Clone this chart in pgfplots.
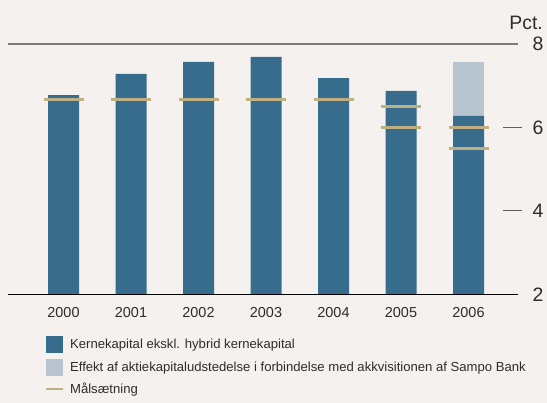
\documentclass[border=0pt]{standalone}
\usepackage{pgfplots}
\pgfplotsset{compat=1.18}
\usepackage{fontspec}
\setmainfont{Liberation Sans}
\definecolor{bg}{RGB}{244,241,238}
\definecolor{darkbar}{RGB}{56,108,140}
\definecolor{lightbar}{RGB}{185,196,209}
\definecolor{target}{RGB}{190,176,130}
\definecolor{txt}{RGB}{45,45,45}
\definecolor{topline}{RGB}{125,125,125}
\definecolor{baseline}{RGB}{30,30,30}
\definecolor{tickc}{RGB}{95,95,95}
\begin{document}
\begin{tikzpicture}
\useasboundingbox (0,0) rectangle (547bp,403bp);
\fill[bg] (0,0) rectangle (547bp,403bp);
\begin{axis}[
  at={(8.3bp,108.7bp)}, anchor=south west,
  scale only axis, width=510bp, height=250bp,
  xmin=-0.8178, xmax=6.7378, ymin=2, ymax=8,
  clip mode=individual,
  axis line style={draw=none},
  major tick length=0pt,
  xtick={0,...,6},
  xticklabels={2000,2001,2002,2003,2004,2005,2006},
  ytick={2,4,6,8},
  yticklabel pos=right,
  /pgf/number format/assume math mode=true,
  xticklabel style={font=\fontsize{14.5}{14.5}\selectfont, text=txt, inner sep=0pt, anchor=north, yshift=-13.4bp},
  yticklabel style={font=\fontsize{19.5}{19.5}\selectfont, text=txt, inner sep=0pt, anchor=west, xshift=14bp},
  legend style={at={(0.072,-0.1668)}, anchor=north west, draw=none, fill=none,
    inner sep=0pt, outer sep=0pt, row sep=7bp,
    font=\fontsize{13.15}{13.15}\selectfont, text=txt,
    cells={anchor=west}, nodes={inner sep=0pt},
    /tikz/column 1/.style={column sep=5.5bp}},
  legend cell align=left,
]
\addplot[ybar, bar width=31bp, bar shift=0pt, fill=lightbar, draw=none, forget plot]
  coordinates {(6,7.58)};
\addplot[ybar, bar width=31bp, bar shift=0pt, fill=darkbar, draw=none, forget plot]
  coordinates {(0,6.78) (1,7.29) (2,7.58) (3,7.70) (4,7.19) (5,6.88) (6,6.28)};
\addplot[only marks, mark=-, mark size=20bp, mark options={line width=2.6bp, draw=target}, forget plot]
  coordinates {(0,6.67) (1,6.67) (2,6.67) (3,6.67) (4,6.67) (5,6.5) (6,6.0)};
\addplot[only marks, mark=-, mark size=20bp, mark options={line width=2.6bp, draw=target}, forget plot]
  coordinates {(5,6.0) (6,5.5)};

\addlegendimage{legend image code/.code={\fill[darkbar] (0bp,-8bp) rectangle (16bp,8bp);}}
\addlegendentry{Kernekapital ekskl. hybrid kernekapital}
\addlegendimage{legend image code/.code={\fill[lightbar] (0bp,-8bp) rectangle (16bp,8bp);}}
\addlegendentry{Effekt af aktiekapitaludstedelse i forbindelse med akkvisitionen af Sampo Bank}
\addlegendimage{legend image code/.code={\draw[target, line width=2.6bp] (0bp,0bp) -- (17bp,0bp);}}
\addlegendentry{Målsætning}

\draw[topline, line width=1.6bp] (rel axis cs:0,1) -- (rel axis cs:1,1);
\draw[baseline, line width=1bp] (rel axis cs:0,0) -- (rel axis cs:1,0);
\draw[tickc, line width=1bp] (axis cs:6.511,6) -- (axis cs:6.793,6);
\draw[tickc, line width=1bp] (axis cs:6.511,4) -- (axis cs:6.793,4);
\end{axis}
\node[anchor=base east, font=\fontsize{19.5}{19.5}\selectfont, text=txt, inner sep=0pt] at (543bp,373.7bp) {Pct.};
\end{tikzpicture}
\end{document}
